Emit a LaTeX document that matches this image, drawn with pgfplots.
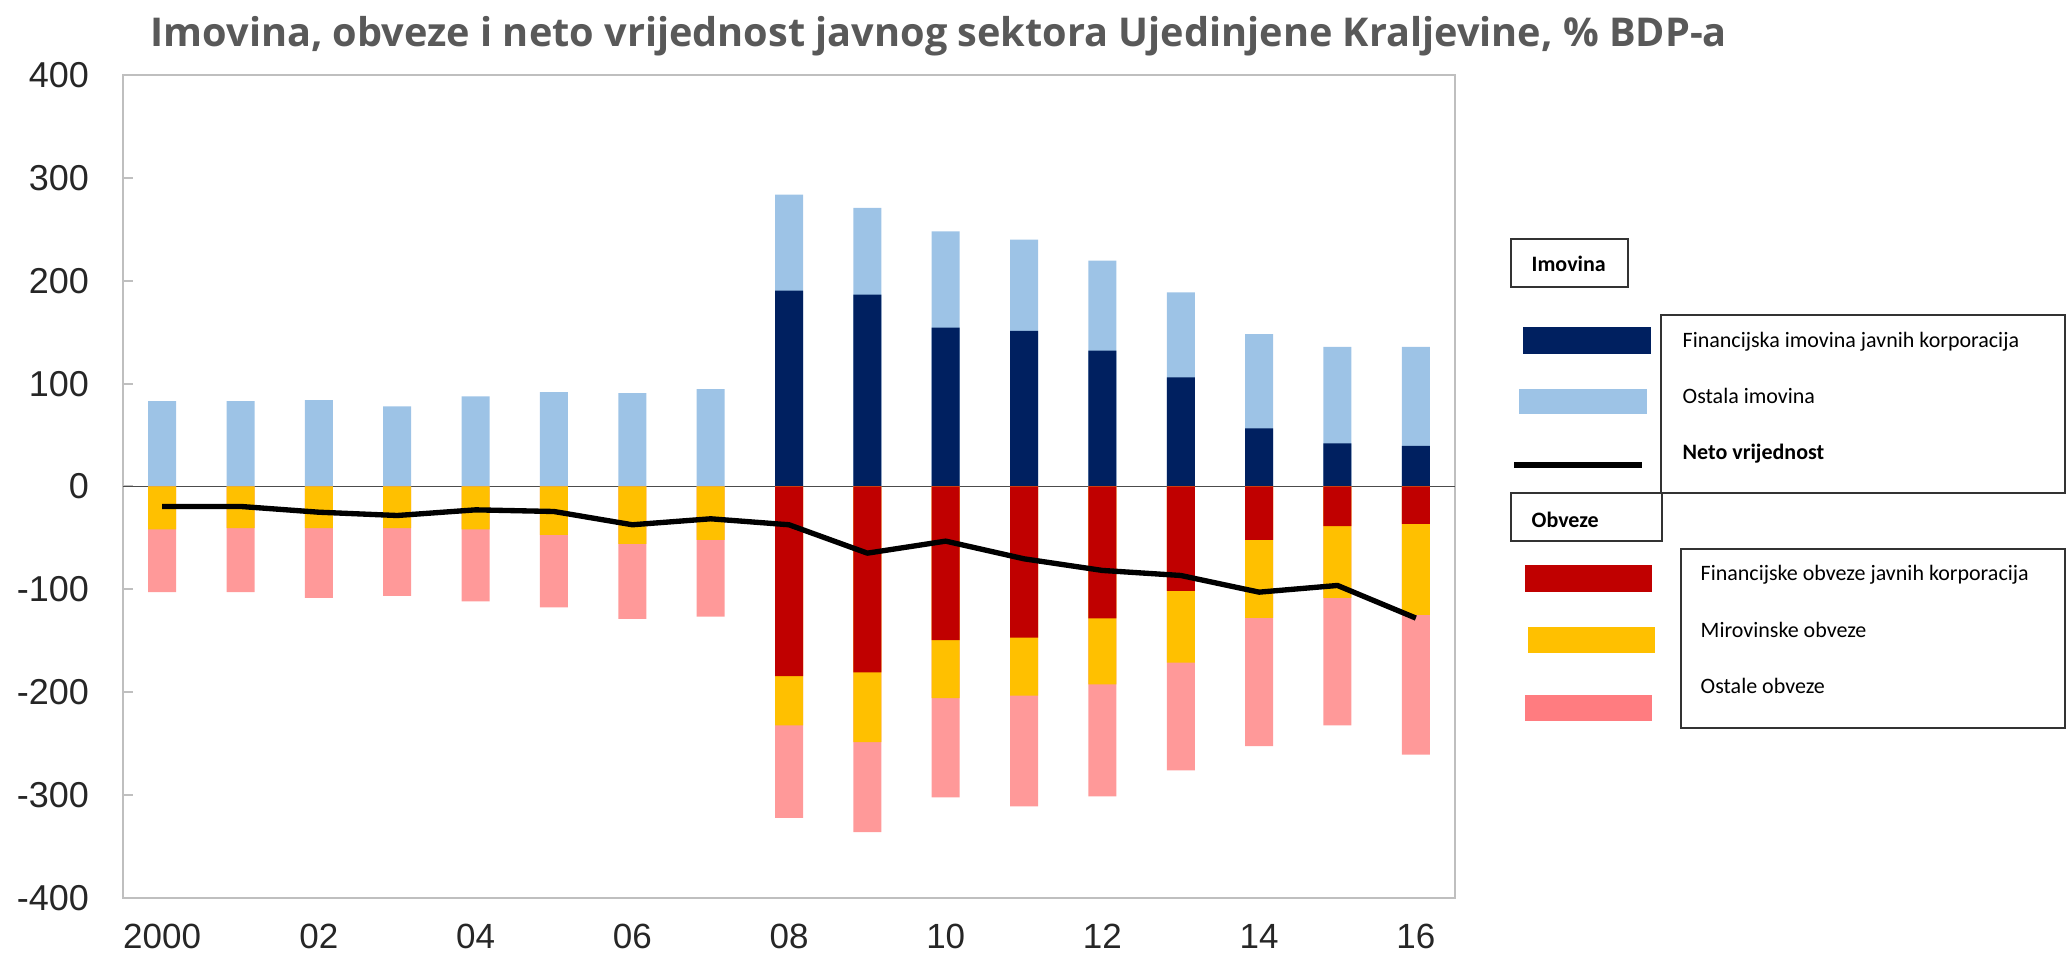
\documentclass[border=0pt]{standalone}
\usepackage{pgfplots}
\pgfplotsset{compat=1.18}
\usepackage{fontspec}
\setmainfont{Liberation Sans}
\newfontfamily\titlefont{Open Sans}
\newfontfamily\legfont{Carlito}
\definecolor{dblue}{HTML}{002060}
\definecolor{lblue}{HTML}{9DC3E6}
\definecolor{dred}{HTML}{C00000}
\definecolor{yel}{HTML}{FFC000}
\definecolor{pinkbar}{HTML}{FF9999}
\definecolor{pinkleg}{HTML}{FF7C80}
\definecolor{titlegray}{HTML}{595959}
\definecolor{axgray}{HTML}{BFBFBF}
\begin{document}
\begin{tikzpicture}
\useasboundingbox (0,0) rectangle (620.4pt,286.2pt);
\begin{axis}[
  at={(36.9pt,16.8pt)}, anchor=south west,
  scale only axis, width=399.6pt, height=246.9pt,
  xmin=-0.5, xmax=16.5, ymin=-400, ymax=400,
  ytick={-400,-300,...,400},
  xtick={0,2,...,16},
  xticklabels={2000,02,04,06,08,10,12,14,16},
  ytick pos=left, xtick pos=bottom,
  tick align=inside, major tick length=3pt,
  xtick style={draw=none},
  ytick style={axgray, line width=0.6pt},
  axis line style={axgray, line width=0.6pt},
  /pgf/number format/assume math mode=true,
  ticklabel style={font=\fontsize{10.8}{12}\selectfont, text=black!85},
  yticklabel style={inner sep=0pt, xshift=-10pt},
  xticklabel style={inner sep=0pt, yshift=-4.6pt, font=\fontsize{10.5}{12}\selectfont},
  extra y ticks={0}, extra y tick labels={},
  extra y tick style={grid=major, major grid style={black!70, line width=0.5pt}, major tick length=0pt},
  ybar, bar width=8.4pt,
  clip=false,
]
% Assets: total (light blue), then financial assets of public corporations (dark blue)
\addplot[fill=lblue, draw=none, bar shift=0pt] coordinates {
(0,83)(1,83)(2,84)(3,78)(4,87.5)(5,91.7)(6,90.7)(7,94.6)
(8,283.7)(9,270.8)(10,248)(11,240)(12,219.6)(13,188.8)(14,148)(15,135.7)(16,135.7)};
\addplot[fill=dblue, draw=none, bar shift=0pt] coordinates {
(8,190.4)(9,186.6)(10,154.5)(11,151.3)(12,132)(13,106)(14,56.4)(15,42)(16,39.5)};
% Liabilities: total (pink), then financial + pension (yellow), then financial (red)
\addplot[fill=pinkbar, draw=none, bar shift=0pt] coordinates {
(0,-102.7)(1,-102.7)(2,-108.2)(3,-106.2)(4,-111.7)(5,-117.6)(6,-128.6)(7,-126.6)
(8,-322)(9,-335.9)(10,-302.2)(11,-311)(12,-301.2)(13,-276)(14,-252.3)(15,-232.2)(16,-260.7)};
\addplot[fill=yel, draw=none, bar shift=0pt] coordinates {
(0,-41.8)(1,-40.5)(2,-40.5)(3,-40.5)(4,-41.8)(5,-47)(6,-55.7)(7,-51.8)
(8,-232.2)(9,-248.4)(10,-205.7)(11,-203.4)(12,-192.4)(13,-171.3)(14,-127.6)(15,-108.2)(16,-124.7)};
\addplot[fill=dred, draw=none, bar shift=0pt] coordinates {
(8,-184.3)(9,-180.7)(10,-149.3)(11,-147)(12,-128.3)(13,-101.4)(14,-51.8)(15,-38.5)(16,-36.3)};
% Net worth
\addplot[sharp plot, black, line width=1.6pt, line join=round, mark=none] coordinates {
(0,-19.4)(1,-19.4)(2,-25)(3,-28.2)(4,-22.7)(5,-24.3)(6,-37.2)(7,-31.4)
(8,-37.2)(9,-64.8)(10,-53.1)(11,-70.3)(12,-81.6)(13,-86.5)(14,-102.7)(15,-96.2)(16,-127.9)};
\end{axis}
% Title and legend, in image pixel coordinates
\begin{scope}[shift={(0,286.2pt)}, x=0.3pt, y=-0.3pt]
\node[anchor=base west, inner sep=0pt, text=titlegray, font=\titlefont\bfseries\fontsize{11.9}{14}\selectfont] at (150,47)
  {Imovina, obveze i neto vrijednost javnog sektora Ujedinjene Kraljevine, \% BDP-a};
% Imovina header
\draw[black!80, line width=0.4pt] (1511,239) rectangle (1628,287);
\node[anchor=base west, inner sep=0pt, font=\legfont\bfseries\fontsize{6.6}{8}\selectfont] at (1531,272) {Imovina};
\draw[black!80, line width=0.4pt] (1661,315) rectangle (2065,493);
\fill[dblue] (1523,327) rectangle (1651,354);
\fill[lblue] (1519,389) rectangle (1647,414);
\draw[black, line width=1.8pt] (1514,465) -- (1642,465);
\node[anchor=base west, inner sep=0pt, font=\legfont\fontsize{6.6}{8}\selectfont] at (1682,348) {Financijska imovina javnih korporacija};
\node[anchor=base west, inner sep=0pt, font=\legfont\fontsize{6.6}{8}\selectfont] at (1682,404) {Ostala imovina};
\node[anchor=base west, inner sep=0pt, font=\legfont\bfseries\fontsize{6.6}{8}\selectfont] at (1682,460) {Neto vrijednost};
% Obveze header
\draw[black!80, line width=0.4pt] (1511,493) rectangle (1662,541);
\node[anchor=base west, inner sep=0pt, font=\legfont\bfseries\fontsize{6.6}{8}\selectfont] at (1531,527) {Obveze};
\draw[black!80, line width=0.4pt] (1681,549) rectangle (2065,728);
\fill[dred] (1525,565) rectangle (1652,592);
\fill[yel] (1528,627) rectangle (1655,653);
\fill[pinkleg] (1525,695) rectangle (1652,721);
\node[anchor=base west, inner sep=0pt, font=\legfont\fontsize{6.6}{8}\selectfont] at (1700,581) {Financijske obveze javnih korporacija};
\node[anchor=base west, inner sep=0pt, font=\legfont\fontsize{6.6}{8}\selectfont] at (1700,637) {Mirovinske obveze};
\node[anchor=base west, inner sep=0pt, font=\legfont\fontsize{6.6}{8}\selectfont] at (1700,693) {Ostale obveze};
\end{scope}
\end{tikzpicture}
\end{document}
